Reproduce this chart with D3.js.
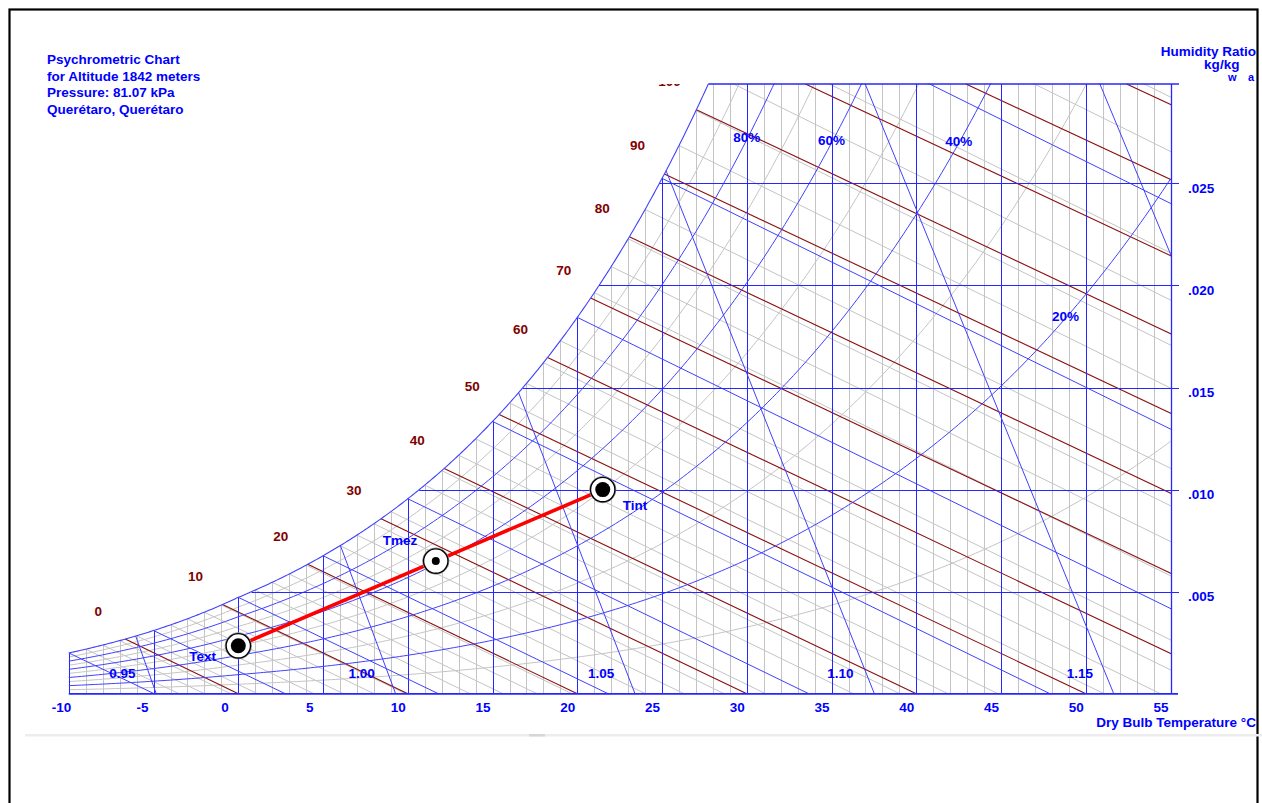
<!DOCTYPE html>
<html>
<head>
<meta charset="utf-8">
<script src="https://cdn.jsdelivr.net/npm/d3@7"></script>
<style>
  html, body { margin: 0; padding: 0; background: #fff; }
  svg { display: block; }
  text { font-family: "Liberation Sans", Arial, sans-serif; font-weight: bold; }
</style>
</head>
<body>
<svg id="chart" width="1262" height="803"></svg>
<script>
// ---- Chart data -------------------------------------------------------
const pressure = 81.07;                       // kPa at 1842 m
const titleLines = ["Psychrometric Chart", "for Altitude 1842 meters", "Pressure: 81.07 kPa", "Querétaro, Querétaro"];

const dryBulbTicks = [-10, -5, 0, 5, 10, 15, 20, 25, 30, 35, 40, 45, 50, 55];
const humidityTicks = [0.005, 0.010, 0.015, 0.020, 0.025];
const humidityLabels = [".005", ".010", ".015", ".020", ".025"];

const rhMajor = [0.2, 0.4, 0.6, 0.8];
const rhMinor = [0.1, 0.3, 0.5, 0.7, 0.9];
const rhLabelLevels = [0.8, 0.6, 0.4, 0.2];
const rhLabelTexts = ["80%", "60%", "40%", "20%"];
const rhLabelTemps = [30, 35, 42.5, 48.8];

const enthalpyLevels = [0, 10, 20, 30, 40, 50, 60, 70, 80, 90, 100, 110, 120, 130];
const enthalpyLabels = [0, 10, 20, 30, 40, 50, 60, 70, 80, 90, 100];

const wetBulbLevels = d3.range(-10, 33);      // every 1 °C, heavy every 5 °C

const volumeLevels = [0.95, 1.00, 1.05, 1.10, 1.15, 1.20];
const volumeLabels = ["0.95", "1.00", "1.05", "1.10", "1.15"];

const stateNames = ["Text", "Tmez", "Tint"];
const stateTemps = [0.0, 11.65, 21.5];
const stateHumidity = [0.00235, 0.0065, 0.0100];

// ---- Psychrometric relations ------------------------------------------
function pws(T) {
  return T >= 0 ? 0.61094 * Math.exp(17.625 * T / (T + 243.04))
                : 0.61115 * Math.exp(22.452 * T / (272.55 + T));
}
function wsat(T) { const p = pws(T); return 0.622 * p / (pressure - p); }
function wRH(T, rh) { const p = rh * pws(T); return 0.622 * p / (pressure - p); }
function solve(f, lo, hi) {
  let flo = f(lo);
  for (let i = 0; i < 80; i++) {
    const mid = (lo + hi) / 2, fm = f(mid);
    if ((fm > 0) === (flo > 0)) { lo = mid; flo = fm; } else { hi = mid; }
  }
  return (lo + hi) / 2;
}
function tsat(w) { return solve(T => wsat(T) - w, -40, 80); }

// ---- Scales -----------------------------------------------------------
const x = d3.scaleLinear().domain([-10, 55]).range([68.8, 1170.6]);
const y = d3.scaleLinear().domain([0, 0.025]).range([693.8, 183.3]);
const wTop = y.invert(84);
const tTop = tsat(wTop);
const px = v => Math.round(v) + 0.5;          // snap straight grid lines to pixels

const BLUE = "#0000ff", GRID = "#2626ff", LBLUE = "#4040ff", GREY = "#c4c4c4", BROWN = "#8a1010";
const FS = 13.5;

const svg = d3.select("#chart");
svg.append("rect").attr("width", 1262).attr("height", 803).attr("fill", "#fff");

const defs = svg.append("defs");
defs.append("clipPath").attr("id", "plot")
  .append("rect").attr("x", x(-10) - 1).attr("y", 83.5)
  .attr("width", x(55) - x(-10) + 2).attr("height", y(0) - 83 + 1);
defs.append("clipPath").attr("id", "labels")
  .append("rect").attr("x", 0).attr("y", 84).attr("width", 1262).attr("height", 720);

// outer frame and bottom separator
svg.append("rect").attr("x", 9.5).attr("y", 9.5).attr("width", 1248).attr("height", 820)
  .attr("fill", "none").attr("stroke", "#000").attr("stroke-width", 2.2);
svg.append("rect").attr("x", 25).attr("y", 734).attr("width", 1237).attr("height", 2.5).attr("fill", "#ededed");
svg.append("rect").attr("x", 529).attr("y", 734).attr("width", 16).attr("height", 2.5).attr("fill", "#d6d6d6");

const plot = svg.append("g").attr("clip-path", "url(#plot)");
const line = d3.line().x(d => x(d[0])).y(d => y(d[1]));

function rhPoints(rh) {
  const pts = [];
  for (let T = -10; T <= 55.001; T += 0.25) {
    const w = wRH(T, rh);
    pts.push([T, w]);
    if (w > wTop) break;
  }
  return pts;
}
function wetBulbSegment(twb) {
  const ws = wsat(twb);
  const t0 = twb + (2501 - 2.326 * twb) * ws;
  return [[twb, ws], [t0, 0]];
}
function enthalpySegment(h) {
  const ts = solve(T => T + wsat(T) * (2501 + 1.86 * T) - h, -40, 70);
  let upper = [ts, wsat(ts)];
  if (upper[1] > wTop) upper = [(h - 2501 * wTop) / (1 + 1.86 * wTop), wTop];
  return { sat: [ts, wsat(ts)], seg: [upper, [h, 0]] };
}
function volumeSegment(v) {
  const t0 = v * pressure / 0.287042 - 273.15;
  const ts = solve(T => 0.287042 * (T + 273.15) * (1 + 1.6078 * wsat(T)) / pressure - v, -40, 70);
  return { t0, seg: [[t0, 0], [ts, wsat(ts)]] };
}

// ---- light grey minor lines -------------------------------------------
const minorT = d3.range(-10, 56).filter(t => t % 5 !== 0);
plot.append("g").selectAll("line").data(minorT).join("line")
  .attr("x1", d => px(x(d))).attr("x2", d => px(x(d)))
  .attr("y1", y(0)).attr("y2", d => y(Math.min(wsat(d), wTop)))
  .attr("stroke", GREY).attr("stroke-width", 1);

plot.append("g").selectAll("path").data(wetBulbLevels.filter(t => t % 5 !== 0)).join("path")
  .attr("d", d => line(wetBulbSegment(d)))
  .attr("fill", "none").attr("stroke", GREY).attr("stroke-width", 1);

plot.append("g").selectAll("path").data(rhMinor).join("path")
  .attr("d", d => line(rhPoints(d)))
  .attr("fill", "none").attr("stroke", GREY).attr("stroke-width", 1);

// ---- enthalpy lines ----------------------------------------------------
const hData = enthalpyLevels.map(h => Object.assign({ h }, enthalpySegment(h)));
plot.append("g").selectAll("path").data(hData).join("path")
  .attr("d", d => line(d.seg))
  .attr("fill", "none").attr("stroke", BROWN).attr("stroke-width", 1.1);

// ---- blue lines ---------------------------------------------------------
plot.append("g").selectAll("line").data(dryBulbTicks).join("line")
  .attr("x1", d => px(x(d))).attr("x2", d => px(x(d)))
  .attr("y1", y(0)).attr("y2", d => y(Math.min(wsat(d), wTop)))
  .attr("stroke", GRID).attr("stroke-width", 1);

plot.append("g").selectAll("path").data(wetBulbLevels.filter(t => t % 5 === 0)).join("path")
  .attr("d", d => line(wetBulbSegment(d)))
  .attr("fill", "none").attr("stroke", LBLUE).attr("stroke-width", 1);

const vData = volumeLevels.map(v => Object.assign({ v }, volumeSegment(v)));
plot.append("g").selectAll("path").data(vData).join("path")
  .attr("d", d => line(d.seg))
  .attr("fill", "none").attr("stroke", LBLUE).attr("stroke-width", 1);

plot.append("g").selectAll("path").data(rhMajor).join("path")
  .attr("d", d => line(rhPoints(d)))
  .attr("fill", "none").attr("stroke", LBLUE).attr("stroke-width", 1);

// saturation curve
const satPts = d3.range(-10, tTop, 0.1).map(T => [T, wsat(T)]).concat([[tTop, wTop]]);
plot.append("path").attr("d", line(satPts))
  .attr("fill", "none").attr("stroke", LBLUE).attr("stroke-width", 1.1);

// humidity grid lines, top, right and bottom edges
svg.append("g").selectAll("line").data(humidityTicks).join("line")
  .attr("x1", d => x(tsat(d))).attr("x2", 1179)
  .attr("y1", d => px(y(d))).attr("y2", d => px(y(d)))
  .attr("stroke", GRID).attr("stroke-width", 1);
svg.append("line").attr("x1", x(tTop)).attr("x2", 1179).attr("y1", 84).attr("y2", 84)
  .attr("stroke", GRID).attr("stroke-width", 1.5);
svg.append("line").attr("x1", px(x(55))).attr("x2", px(x(55))).attr("y1", 84).attr("y2", y(0))
  .attr("stroke", GRID).attr("stroke-width", 1.3);
svg.append("line").attr("x1", x(-10)).attr("x2", 1178).attr("y1", y(0)).attr("y2", y(0))
  .attr("stroke", GRID).attr("stroke-width", 1.8);

// ---- labels ------------------------------------------------------------
const title = svg.append("g").attr("fill", BLUE).attr("font-size", FS);
titleLines.forEach((t, i) => {
  title.append("text").attr("x", 47).attr("y", 64 + i * 16.6).text(t);
});

svg.append("text").attr("x", 1256).attr("y", 56).attr("text-anchor", "end")
  .attr("fill", BLUE).attr("font-size", FS).text("Humidity Ratio");
const unit = svg.append("g").attr("fill", BLUE).attr("font-size", FS);
unit.append("text").attr("x", 1204).attr("y", 69).text("kg");
unit.append("text").attr("x", 1220).attr("y", 69).text("/kg");
unit.append("text").attr("x", 1228).attr("y", 81).attr("font-size", 11).text("w");
unit.append("text").attr("x", 1248).attr("y", 81).attr("font-size", 11).text("a");

svg.append("g").selectAll("text").data(dryBulbTicks).join("text")
  .attr("x", d => x(d) - 17).attr("y", 711.5)
  .attr("fill", BLUE).attr("font-size", FS).text(d => d);
svg.append("text").attr("x", 1256).attr("y", 727).attr("text-anchor", "end")
  .attr("fill", BLUE).attr("font-size", FS).text("Dry Bulb Temperature °C");

svg.append("g").selectAll("text").data(humidityTicks).join("text")
  .attr("x", 1188).attr("y", d => y(d) + 9.5)
  .attr("fill", BLUE).attr("font-size", FS).text((d, i) => humidityLabels[i]);

svg.append("g").selectAll("text").data(rhLabelLevels).join("text")
  .attr("x", (d, i) => x(rhLabelTemps[i]))
  .attr("y", (d, i) => y(wRH(rhLabelTemps[i], d)) + 2.5)
  .attr("text-anchor", "middle").attr("fill", BLUE).attr("font-size", FS)
  .text((d, i) => rhLabelTexts[i]);

svg.append("g").selectAll("text").data(vData.filter(d => d.v < 1.175)).join("text")
  .attr("x", d => x(d.t0) - 34).attr("y", 678)
  .attr("text-anchor", "middle").attr("fill", BLUE).attr("font-size", FS)
  .text((d, i) => volumeLabels[i]);

svg.append("g").attr("clip-path", "url(#labels)").selectAll("text")
  .data(hData.filter(d => enthalpyLabels.includes(d.h))).join("text")
  .attr("x", d => x(d.sat[0]) - 27).attr("y", d => y(d.sat[1]) - 23.5)
  .attr("text-anchor", "middle").attr("fill", "#800000").attr("font-size", FS)
  .text(d => d.h);

// ---- process line and state points ------------------------------------
const states = stateNames.map((n, i) => ({ name: n, t: stateTemps[i], w: stateHumidity[i] }));
svg.append("path").attr("d", line(states.map(s => [s.t, s.w])))
  .attr("fill", "none").attr("stroke", "#ff0000").attr("stroke-width", 3.6);

const marks = svg.append("g").selectAll("g").data(states).join("g")
  .attr("transform", d => `translate(${x(d.t)},${y(d.w)})`);
marks.append("circle").attr("r", 13.2).attr("fill", "none").attr("stroke", "#9a9a9a").attr("stroke-width", 1);
marks.append("circle").attr("r", 12.2).attr("fill", "#fff").attr("stroke", "#000").attr("stroke-width", 1.4);
marks.append("circle").attr("r", d => d.name === "Tmez" ? 4 : 7.5).attr("fill", "#000");

const labelDx = { Text: -49, Tmez: -53, Tint: 20 };
const labelDy = { Text: 15, Tmez: -16, Tint: 20 };
svg.append("g").selectAll("text").data(states).join("text")
  .attr("x", d => x(d.t) + labelDx[d.name]).attr("y", d => y(d.w) + labelDy[d.name])
  .attr("fill", BLUE).attr("font-size", FS).text(d => d.name);
</script>
</body>
</html>
